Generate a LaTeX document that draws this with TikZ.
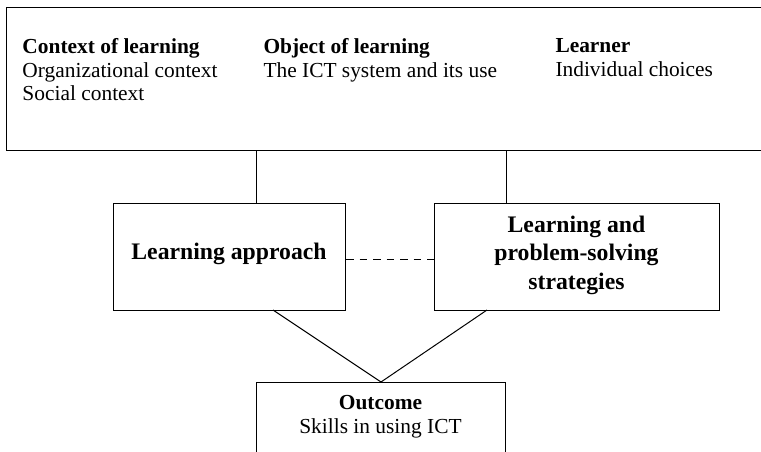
\documentclass[tikz,border=0pt]{standalone}
\usepackage{fontspec}
\setmainfont{Liberation Serif}
\begin{document}
\begin{tikzpicture}[x=1pt,y=-1pt,line width=1pt,
  box/.style={draw,inner sep=0pt,anchor=north west},
  txt/.style={inner sep=0pt,font=\fontsize{21.4}{23.5}\selectfont},
  bold/.style={inner sep=0pt,font=\fontsize{23.7}{28.5}\selectfont\bfseries}]
\useasboundingbox (0,0) rectangle (761,451);
\clip (0,0) rectangle (761,451);

%%% boxes
\node[box,minimum width=770pt,minimum height=142.5pt] (frame) at (6,7) {};
\node[box,minimum width=232pt,minimum height=107pt] (approach) at (113,203) {};
\node[box,minimum width=285pt,minimum height=107pt] (strategies) at (434,203) {};
\node[box,minimum width=249pt,minimum height=100pt] (outcome) at (256,382) {};

%%% texts in the top box
\node[txt,anchor=north west,align=left] (context) at (22,38.2)
  {\textbf{Context of learning}\\Organizational context\\Social context};
\node[txt,anchor=north west,align=left] (object) at (263,38.2)
  {\textbf{Object of learning}\\The ICT system and its use};
\node[txt,anchor=north west,align=left] (learner) at (555,38.2)
  {\textbf{Learner}\\Individual choices};

%%% texts in the lower boxes
\node[bold] (approachtext) at (229,254.3) {Learning approach};
\node[bold,align=center] (strategiestext) at (576.5,255)
  {Learning and\\problem-solving\\strategies};
\node[txt,align=center,anchor=north,font=\fontsize{21.4}{24}\selectfont] (outcometext) at (380.5,394.5)
  {\textbf{Outcome}\\Skills in using ICT};

%%% connectors
\coordinate (ta) at (256,203);
\coordinate (ts) at (506,203);
\coordinate (ba) at (273,310);
\coordinate (bs) at (487,310);
\draw (ta) -- (ta |- frame.south);
\draw (ts) -- (ts |- frame.south);
\draw[dash pattern=on 7.5pt off 6pt] (approach.east) ++(0,2.5) coordinate (dl)
  -- (dl -| strategies.west);
\draw (ba) -- (outcome.north) -- (bs);
\end{tikzpicture}
\end{document}
